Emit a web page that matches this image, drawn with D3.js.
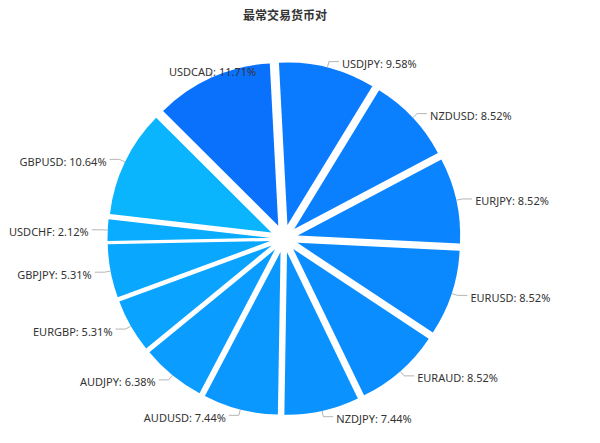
<!DOCTYPE html>
<html>
<head>
<meta charset="utf-8">
<script src="https://cdn.jsdelivr.net/npm/d3@7"></script>
<style>
  html, body { margin: 0; padding: 0; background: #fff; }
  svg { display: block; }
</style>
</head>
<body>
<svg id="chart" width="600" height="443"></svg>
<script>
const titleText = "最常交易货币对";
const categories = ["USDJPY","NZDUSD","EURJPY","EURUSD","EURAUD","NZDJPY","AUDUSD","AUDJPY","EURGBP","GBPJPY","USDCHF","GBPUSD","USDCAD"];
const values = [9.58, 8.52, 8.52, 8.52, 8.52, 7.44, 7.44, 6.38, 5.31, 5.31, 2.12, 10.64, 11.71];
const colors = ["#0a7bff","#0a80ff","#0a85ff","#0a89ff","#0a8eff","#0a93ff","#0a98ff","#0a9dff","#0aa3ff","#0aa7ff","#0aacff","#0ab5fe","#0a71fd"];

const svg = d3.select("#chart");
const cx = 284, cy = 238.5;
const R = 162.5, explode = 14;
const rot = -3 * Math.PI / 180;

svg.append("text")
  .attr("x", 285).attr("y", 14)
  .attr("text-anchor", "middle")
  .attr("dominant-baseline", "central")
  .style("font-family", "'Noto Sans CJK SC', 'Noto Sans', sans-serif")
  .style("font-size", "12px")
  .style("font-weight", "bold")
  .style("fill", "#333")
  .text(titleText);

const data = categories.map((c, i) => ({name: c, value: values[i], color: colors[i]}));
const pie = d3.pie().sort(null).value(d => d.value)
  .startAngle(rot).endAngle(2 * Math.PI + rot);
const arcs = pie(data);
const arc = d3.arc().innerRadius(0).outerRadius(R);

const g = svg.append("g").attr("transform", `translate(${cx},${cy})`);

g.selectAll("path.slice").data(arcs).enter().append("path")
  .attr("class", "slice")
  .attr("d", arc)
  .attr("fill", d => d.data.color)
  .attr("transform", d => {
    const m = (d.startAngle + d.endAngle) / 2;
    return `translate(${explode * Math.sin(m)},${-explode * Math.cos(m)})`;
  });

const r0 = R + explode, r1 = R + explode + 6, len2 = 10;
arcs.forEach(d => {
  const m = (d.startAngle + d.endAngle) / 2;
  const s = Math.sin(m), c = Math.cos(m);
  const side = s >= 0 ? 1 : -1;
  const p0 = [r0 * s, -r0 * c];
  const p1 = [r1 * s, -r1 * c];
  let p2 = [p1[0] + side * len2, p1[1]];
  const nearTopLeft = side < 0 && c > Math.cos(30 * Math.PI / 180);
  let tx, anchor, ty;
  if (nearTopLeft) {
    p2 = p1;
    tx = p1[0] + 3; ty = p1[1] - 2; anchor = "middle";
  } else {
    tx = p2[0] + side * 3; ty = p2[1]; anchor = side > 0 ? "start" : "end";
  }
  g.append("path")
    .attr("d", d3.line()([p0, p1, p2]))
    .attr("fill", "none")
    .attr("stroke", "#b5b5b5")
    .attr("stroke-width", 1);
  g.append("text")
    .attr("x", tx).attr("y", ty + 2)
    .attr("text-anchor", anchor)
    .attr("dominant-baseline", "central")
    .style("font-family", "'Noto Sans', sans-serif")
    .style("font-size", "11px")
    .style("fill", "#333")
    .text(`${d.data.name}: ${d.data.value.toFixed(2)}%`);
});
</script>
</body>
</html>
